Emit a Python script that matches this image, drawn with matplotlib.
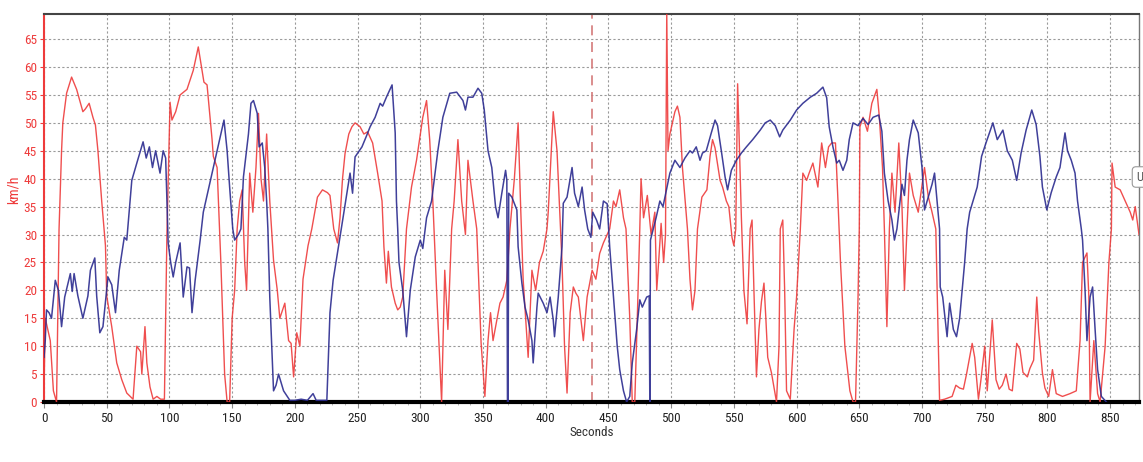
import matplotlib
matplotlib.use("Agg")
import matplotlib.pyplot as plt
from matplotlib import font_manager
from matplotlib.ticker import MultipleLocator

# ---------------- data ----------------
red_t = [0, 1, 3, 5, 7.5, 10, 12, 14, 15, 18, 22, 26, 31, 33, 36, 39, 41, 43, 46, 49, 50, 54, 58, 62, 66, 71,
         74, 77, 78, 80.5, 82, 84.5, 87, 90, 93, 96, 98, 100.5, 102, 105, 108.5, 114, 119, 123, 127.5, 130,
         134, 135, 138, 141, 144, 146, 148, 150, 152, 154, 156, 158, 160, 161.5, 164, 166.5, 169, 171, 173,
         175, 177.5, 180, 183, 186, 188, 192, 195, 197, 199, 201.5, 204, 206.5, 210.5, 213.5, 218, 222, 226,
         228, 231, 234, 236, 238, 240, 243, 245.5, 248, 252, 255, 258, 262, 266, 269.5, 271, 273, 274.5, 277,
         280, 282, 284, 286, 289, 293, 297, 302, 305, 307.5, 310, 313, 317, 319.5, 322, 325, 327, 330, 333,
         336, 338, 342, 345, 348.5, 351.5, 354, 356, 358, 361, 363.5, 366, 369, 371.5, 375, 378, 380, 382,
         386, 389, 392, 395, 398, 401, 402, 406, 409, 411, 413, 415, 417, 419.5, 422, 424, 426, 430, 433,
         437, 440, 443, 446, 449, 451, 454, 456, 459, 462, 464, 467, 469, 471, 473, 475, 476, 478, 481, 484,
         487, 488.5, 490, 492, 494, 495.5, 496.5, 497.5, 499, 501, 503, 505, 507, 509, 513, 515, 517, 519,
         521, 524.5, 528.5, 531, 533, 535, 539, 541, 544, 546, 548.5, 550, 551.5, 553, 554.5, 556, 558,
         560.5, 563, 564.5, 566, 568, 570, 572, 574, 575.5, 577, 580, 584, 586, 587, 589, 590.5, 592, 595,
         598, 600, 603, 605, 608, 610, 613, 617, 620, 623, 625.5, 628, 631, 633, 635, 638.5, 642.5, 645,
         647, 649, 650, 650.5, 653, 656.5, 660, 664, 666, 668.5, 670, 672, 674, 676, 678.5, 681.5, 684, 686,
         688, 690, 693, 697, 702, 705, 708, 711, 714, 718, 724, 727, 730, 733, 735.5, 740, 742, 745, 747,
         750, 752, 756, 759, 761.5, 764, 767, 769.5, 772, 775.5, 778, 780.5, 784, 786, 789, 791.5, 793, 796,
         798, 801, 804, 807, 812, 818, 823, 826, 828, 831.5, 833, 834, 837, 840, 842, 846, 849, 851, 851.5,
         854, 858, 862, 866, 868, 870, 873]
red_v = [2, 15, 13, 11, 2, 0, 31, 45, 50, 55.3, 58.2, 56, 52, 52.5, 53.5, 51, 49.6, 45, 36, 28, 19, 13.5, 7, 4,
         1.6, 0.5, 10, 9, 5, 13.5, 7, 2.7, 0.5, 1, 0.5, 0.5, 30, 53.7, 50.5, 52, 55, 56, 59.4, 63.6, 57.3,
         56.8, 47, 44, 42, 25, 5, 0, 0, 15, 20, 31, 36, 38, 25, 20, 41, 34, 42, 51.7, 40, 36, 48, 36, 25.4,
         20, 15, 17.7, 11, 10.5, 4.5, 12.4, 10, 22, 28, 31, 36.7, 38, 37.5, 37, 31, 28.5, 33, 40, 44.5, 48,
         49.3, 50, 49.3, 48, 48.4, 46.4, 41, 36, 27.8, 21.3, 27, 20.6, 17.7, 16.5, 17, 18.8, 31, 38.5, 43.3,
         51, 54, 47, 36, 20, 0, 23.6, 13, 31, 36, 47, 36, 30, 43.3, 36, 31, 10.5, 1, 11, 16, 11, 14.7, 17.7,
         18.8, 21.8, 31, 40, 50, 35, 22, 8, 23.6, 20, 25, 27, 31, 34, 52, 45, 35, 25, 10, 1.6, 16, 20.6, 19.5,
         18.8, 11, 18.8, 23.6, 22, 26.6, 28.5, 30, 31, 36, 35, 38, 33, 31, 15, 0, 0, 15, 31, 40, 33, 37, 30,
         34, 20, 25, 32, 25, 30, 70, 45, 48, 50, 52, 53, 51, 42, 31, 22, 16.5, 20, 31, 36.7, 38, 44, 47,
         45.5, 39.7, 38.5, 36, 35, 29.5, 28, 31, 57, 45, 33, 20, 14, 31, 32.6, 20, 4.5, 13, 18, 21.3, 15, 8,
         5.2, 0, 10, 31, 32.6, 20, 2, 0.5, 13, 18.8, 31, 41, 39.7, 41, 42.8, 38.5, 46.4, 42, 45.7, 46.4,
         46.4, 36, 25, 10, 2, 0, 0, 18.8, 31, 49.3, 51, 48.5, 53.5, 56, 51, 42, 31, 13.5, 31, 41, 34, 46.4,
         35.2, 20, 31, 41, 37, 34, 42, 36.8, 34, 31, 0.3, 0.5, 1, 3, 2.5, 2.3, 5, 10.5, 8, 0.5, 4, 10, 2,
         14.7, 4, 2.3, 3, 5, 2.3, 2, 10.5, 9.5, 5.3, 4.5, 6, 7.5, 18.8, 12.7, 5.2, 2.5, 1, 5.8, 1.5, 1, 1.5,
         2, 11, 25, 26.7, 19, 0, 11, 1.5, 0, 10, 25, 31, 42.8, 38.5, 38, 36, 34, 32.6, 35, 30]

blue_t = [0, 1, 2, 4, 6, 9, 11.5, 14, 16.5, 21, 22.5, 24, 27, 31, 35, 37, 40.5, 42, 44.5, 47, 51, 54, 57, 60,
          64, 66, 70, 74, 79, 81.5, 84, 86.5, 89, 92.5, 95, 97, 99, 101, 103, 105, 108.5, 111, 114, 116, 118,
          120.5, 124.5, 127, 131, 135, 140, 143.5, 146, 148, 150.5, 152, 155, 157, 159, 163, 165, 167, 170,
          171.5, 174, 176, 177.5, 178.5, 180, 183, 185, 187, 191, 196, 200, 205, 210, 214.5, 217, 225.5, 228,
          230.5, 233.5, 237, 241.5, 244, 246, 248, 253.5, 257, 260, 264, 268, 270, 273, 277.5, 280, 281, 282,
          283, 286, 289, 292, 296, 300, 302, 305, 309, 314, 318, 323.5, 329, 334, 336, 338, 342, 346, 349,
          351, 354, 357, 360, 362, 365, 368, 369, 369.5, 370, 370.5, 373, 377, 378, 381, 383.5, 386, 389, 390,
          393, 394, 398, 401, 403.5, 406, 407, 410, 413, 414, 417, 421, 423, 426, 429, 431, 433.5, 436, 437.5,
          440.5, 443, 446, 449, 451, 454, 457, 459, 462, 464.5, 467, 469, 472.5, 475, 477, 480.5, 482.5, 483,
          483.5, 488, 491, 493.5, 499, 503, 507, 511, 515, 517, 520, 523, 525, 528, 532, 535, 537, 540, 543,
          545, 548, 552, 556, 560, 565, 571, 575, 579, 583, 586.5, 589, 595, 600, 605, 611, 616, 621, 624,
          626, 629, 632, 634, 637, 640, 642, 645, 649, 653, 657, 661, 665.5, 668, 670, 673, 676, 678, 680, 684,
          686, 688, 690, 693, 697, 700, 702, 705, 708, 710, 712, 714, 714.5, 716.5, 720, 722, 725, 727.5, 730,
          734, 736, 738, 744, 747.5, 751, 756.5, 760, 764.5, 768, 772, 775.5, 779, 783, 787.5, 791, 794, 796,
          799.5, 803, 807, 810, 814, 816, 819, 822, 824, 827, 828, 830, 831.5, 834, 836, 838, 840, 843, 847]
blue_v = [8, 11, 16.5, 16, 15, 21.8, 20, 13.5, 18.8, 23, 19.8, 23, 19, 15, 19, 23.6, 25.8, 19, 12.4, 13.5, 22.4,
          21, 16, 23.6, 29.5, 29, 39.7, 42.8, 46.6, 43.7, 45.7, 42, 45, 41, 45, 43.7, 28.5, 25, 22.4, 25, 28.5,
          18.8, 24.2, 24, 16, 21.8, 29, 34, 38, 42, 47, 50.5, 45, 38.5, 31, 29, 30, 31, 40.3, 48, 53.5, 54,
          51.7, 45.7, 46.4, 42, 36, 31, 18.8, 2, 3, 5, 2, 0.3, 0.3, 0.5, 0.3, 1.5, 0.3, 0.3, 16, 21.8, 26, 31,
          37.4, 41, 37.4, 43.9, 45.7, 47.6, 49.3, 51, 53.5, 53, 54.6, 56.8, 48.2, 36, 31, 25, 20, 11.7, 20, 26,
          29, 27.5, 33, 36, 45, 51, 55.3, 55.5, 54, 52.3, 54.6, 54.6, 56.2, 55.3, 52.3, 45, 42, 35, 33, 37.4,
          41.5, 39.7, 0, 0, 37.4, 36.7, 34.4, 27.8, 21.3, 17, 14.7, 11, 7, 17, 19.5, 17.7, 16, 18.8, 14.7,
          11.7, 18.8, 27.8, 35.6, 36.7, 42, 37.4, 35, 38.5, 34.4, 31, 29.5, 34, 32.6, 31, 36, 35.5, 27.8, 18.8,
          10, 5.8, 2, 0, 1, 7, 13, 18.3, 17, 18.8, 19, 0, 29, 33, 36, 35, 41, 43.3, 42, 43.7, 45, 44.6, 45.7,
          43.3, 44.6, 45, 48.2, 50.5, 49.5, 45, 40.3, 38, 41.5, 43.3, 44.6, 45.7, 47, 48.7, 50, 50.5, 49.5,
          47.5, 48.7, 50.5, 52.3, 53.5, 54.6, 55.3, 56.4, 54.5, 49.3, 45.7, 42.8, 43.3, 41.5, 43.3, 47, 50,
          49.5, 50.8, 49.7, 51, 51.4, 48.5, 41, 36, 32.6, 29, 31, 39, 37, 43.3, 47, 50.5, 48.2, 42, 34.4, 36.7,
          39, 41, 36, 31, 20.6, 18.8, 11.7, 17.7, 13, 11.7, 15, 25, 31, 34, 38.5, 44, 46.4, 50, 47, 48.7, 45,
          43.3, 39.7, 44.6, 48.7, 52.3, 49.7, 44, 38.5, 34.4, 37.5, 40.3, 42, 48.2, 45, 43.3, 41, 36, 31, 29,
          20, 11, 18.8, 20.6, 13, 5.8, 1, 0]

x_ticks = list(range(0, 851, 50))
y_ticks = list(range(0, 66, 5))
marker_t = 437

# ---------------- fonts ----------------
def pick_font(names):
    for n in names:
        try:
            font_manager.findfont(n, fallback_to_default=False)
            return n
        except Exception:
            continue
    return "DejaVu Sans"

tick_font = pick_font(["Liberation Sans Narrow", "Roboto Condensed", "Liberation Sans", "DejaVu Sans"])
plt.rcParams['font.family'] = [tick_font, 'DejaVu Sans']

RED = "#ee3b3b"
BLUE = "#2b2b8f"

fig = plt.figure(figsize=(11.43, 4.62), dpi=100)
ax = fig.add_axes([44 / 1143, 60 / 462, 1095 / 1143, 388 / 462])

ax.plot(red_t, red_v, color=RED, lw=1.0, alpha=0.9, zorder=3)
ax.plot(blue_t, blue_v, color=BLUE, lw=1.1, alpha=0.9, zorder=4)
ax.axvline(marker_t, color="#d47a7a", lw=1.2, ls=(0, (6, 4)), zorder=2)

ax.set_xlim(0, 873)
ax.set_ylim(0, 69.5)
ax.set_xticks(x_ticks)
ax.set_yticks(y_ticks)
ax.xaxis.set_minor_locator(MultipleLocator(10))

ax.grid(True, which="major", color="#9a9a9a", lw=0.8, ls=(0, (2, 2)))

for lab in ax.get_xticklabels():
    lab.set_fontsize(9.5)
    lab.set_color("#222222")
for lab in ax.get_yticklabels():
    lab.set_fontsize(9.5)
    lab.set_color(RED)

ax.tick_params(axis="x", which="major", length=4, color="#888888", pad=3)
ax.tick_params(axis="x", which="minor", length=2, color="#aaaaaa")
ax.tick_params(axis="y", which="major", length=3, color=RED, pad=2)

ax.spines["bottom"].set_color("black")
ax.spines["bottom"].set_linewidth(3)
ax.spines["left"].set_color(RED)
ax.spines["left"].set_linewidth(1.5)
ax.spines["top"].set_color("#444444")
ax.spines["top"].set_linewidth(1.5)
ax.spines["right"].set_color("#777777")
ax.spines["right"].set_linewidth(1.0)

ax.set_xlabel("Seconds", fontsize=9.5, color="#333333", labelpad=1)
fig.text(14 / 1143, 1 - 190 / 462, "km/h", rotation=90, color=RED, fontsize=10,
         ha="center", va="center")

fig.text(1136 / 1143, 1 - 177 / 462, "U", fontsize=9, color="#555555", ha="left", va="center",
         bbox=dict(boxstyle="round,pad=0.3", fc="white", ec="#999999", lw=0.8))

fig.savefig("out.png", dpi=100)
